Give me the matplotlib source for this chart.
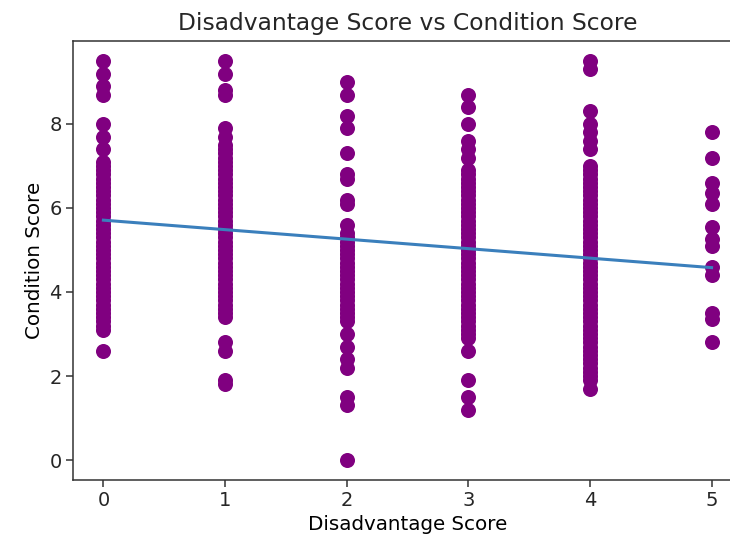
import numpy as np
import matplotlib
matplotlib.use("Agg")
import matplotlib.pyplot as plt

# condition scores, one list per disadvantage score
cond_0 = [9.5, 9.2, 8.9, 8.7, 8.0, 7.7, 7.4, 7.1, 7.0, 6.9, 6.8, 6.7, 6.6, 6.5,
          6.4, 6.3, 6.2, 6.1, 6.0, 5.9, 5.8, 5.7, 5.6, 5.5, 5.4, 5.3, 5.2, 5.1,
          5.0, 4.9, 4.8, 4.7, 4.6, 4.5, 4.4, 4.3, 4.2, 4.1, 4.0, 3.9, 3.8, 3.7,
          3.6, 3.5, 3.4, 3.3, 3.2, 3.1, 2.6]
cond_1 = [9.5, 9.2, 8.8, 8.7, 7.9, 7.7, 7.5, 7.4, 7.3, 7.2, 7.1, 7.0, 6.9, 6.8,
          6.7, 6.6, 6.5, 6.4, 6.3, 6.2, 6.1, 6.0, 5.9, 5.8, 5.7, 5.6, 5.5, 5.4,
          5.3, 5.2, 5.1, 5.0, 4.9, 4.8, 4.7, 4.6, 4.5, 4.4, 4.3, 4.2, 4.1, 4.0,
          3.9, 3.8, 3.7, 3.6, 3.5, 3.4, 2.8, 2.6, 1.9, 1.8]
cond_2 = [9.0, 8.7, 8.2, 7.9, 7.3, 6.8, 6.7, 6.2, 6.1, 5.6, 5.4, 5.3, 5.2, 5.1,
          5.0, 4.9, 4.8, 4.7, 4.6, 4.5, 4.4, 4.3, 4.2, 4.1, 4.0, 3.9, 3.8, 3.7,
          3.6, 3.5, 3.4, 3.3, 3.0, 2.7, 2.4, 2.2, 1.5, 1.3, 0.0]
cond_3 = [8.7, 8.4, 8.0, 7.6, 7.4, 7.2, 6.9, 6.8, 6.7, 6.6, 6.5, 6.4, 6.3, 6.2,
          6.1, 6.0, 5.9, 5.8, 5.7, 5.6, 5.5, 5.4, 5.3, 5.2, 5.1, 5.0, 4.9, 4.8,
          4.7, 4.6, 4.5, 4.4, 4.3, 4.2, 4.1, 4.0, 3.9, 3.8, 3.7, 3.6, 3.5, 3.4,
          3.3, 3.2, 3.1, 3.0, 2.9, 2.6, 1.9, 1.5, 1.2]
cond_4 = [9.5, 9.3, 8.3, 8.0, 7.8, 7.6, 7.4, 7.0, 6.9, 6.8, 6.7, 6.6, 6.5, 6.4,
          6.3, 6.2, 6.1, 6.0, 5.9, 5.8, 5.7, 5.6, 5.5, 5.4, 5.3, 5.2, 5.1, 5.0,
          4.9, 4.8, 4.7, 4.6, 4.5, 4.4, 4.3, 4.2, 4.1, 4.0, 3.9, 3.8, 3.7, 3.6,
          3.5, 3.4, 3.3, 3.2, 3.1, 3.0, 2.9, 2.8, 2.7, 2.6, 2.5, 2.4, 2.3, 2.2,
          2.1, 2.0, 1.9, 1.7]
cond_5 = [7.8, 7.2, 6.6, 6.35, 6.1, 5.55, 5.25, 5.1, 4.6, 4.4, 3.5, 3.35, 2.8]

columns = [cond_0, cond_1, cond_2, cond_3, cond_4, cond_5]
disadvantage_levels = [0, 1, 2, 3, 4, 5]

# fitted line
fit_intercept = 5.71
fit_slope = -0.226

x = np.concatenate([[lvl] * len(c) for lvl, c in zip(disadvantage_levels, columns)])
y = np.concatenate(columns)

plt.rcParams["text.color"] = "#262626"
plt.rcParams["xtick.color"] = "#333333"
plt.rcParams["ytick.color"] = "#333333"
plt.rcParams["axes.edgecolor"] = "#333333"

fig = plt.figure(figsize=(7.3, 5.42), dpi=100)
# axes run past the right edge, as in the cropped reference
ax = fig.add_axes([0.1, 0.1144, 0.9164, 0.81])

ax.scatter(x, y, color="purple", s=117, linewidths=0)
xs = np.sort(x)
ax.plot(xs, fit_intercept + fit_slope * xs, color="#3a7fbc", linewidth=2.2)

ax.set_xlim(-0.25, 5.25)
ax.set_title("Disadvantage Score vs Condition Score", fontsize=16.8, pad=8)
ax.set_xlabel("Disadvantage Score", fontsize=14.3, labelpad=3)
ax.set_ylabel("Condition Score", fontsize=14.3, labelpad=4)
ax.tick_params(labelsize=14.0, length=4.7, width=1.1, labelcolor="#262626")
for sp in ax.spines.values():
    sp.set_linewidth(1.1)
ax.spines["right"].set_visible(False)

fig.savefig("out.png", dpi=100)
